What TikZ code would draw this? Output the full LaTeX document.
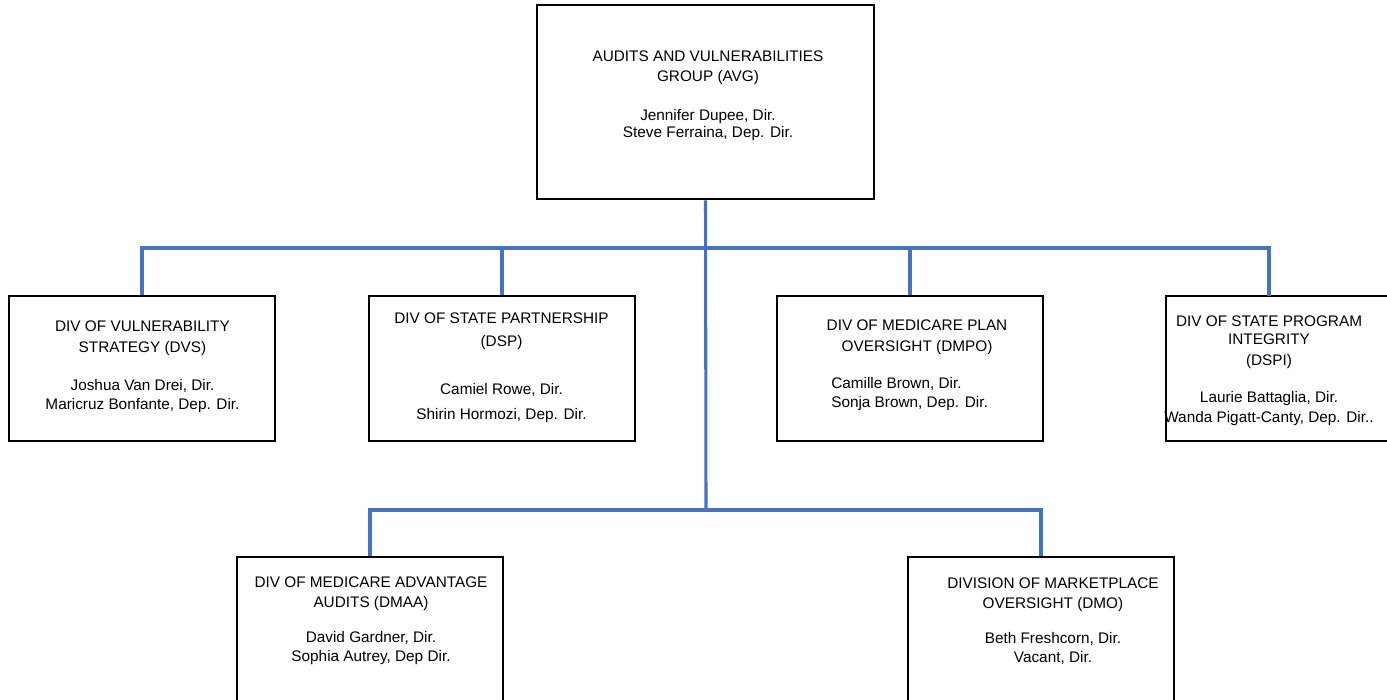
\documentclass[tikz,border=0pt]{standalone}
\usepackage{fontspec}
\setmainfont{Liberation Sans}
\definecolor{connblue}{RGB}{68,114,196}
\begin{document}
\begin{tikzpicture}[x=0.75pt,y=-0.75pt,
  orgbox/.style={draw=black,line width=2.2pt,rectangle,inner sep=0pt,minimum width=266*0.75pt,minimum height=145*0.75pt},
  conn/.style={draw=connblue,line width=2.3pt},
  txt/.style={inner sep=0pt,align=center,font=\fontsize{11.5}{15}\selectfont},
  txtl/.style={inner sep=0pt,align=left,font=\fontsize{11.5}{15}\selectfont}]
\useasboundingbox (0,0) rectangle (1387,699);
\clip (0,0) rectangle (1387,699);
% boxes
\node[orgbox,minimum width=337*0.75pt,minimum height=194*0.75pt] (avg) at (705.5,102) {};
\node[orgbox] (dvs) at (142,368.5) {};
\node[orgbox] (dsp) at (502,368.5) {};
\node[orgbox] (dmpo) at (910,368.5) {};
\node[orgbox] (dspi) at (1299,368.5) {};
\node[orgbox] (dmaa) at (370,629.5) {};
\node[orgbox] (dmo) at (1041,629.5) {};
% junctions
\coordinate (j1) at (706,248);
\coordinate (j2) at (706,510);
\coordinate (dspiin) at (1269,296);
% connectors
\draw[conn] (avg.south) -- (j2);
\draw[conn] (dvs.north) -- (dvs.north |- j1) -- (dspiin |- j1) -- (dspiin);
\draw[conn] (dsp.north) -- (dsp.north |- j1);
\draw[conn] (dmpo.north) -- (dmpo.north |- j1);
\draw[conn] (dmaa.north) |- (j2) -| (dmo.north);
% texts
\node[txt] (avg-t) at (708,96) {AUDITS AND VULNERABILITIES\\ GROUP (AVG)\\[14.25pt] Jennifer Dupee, Dir.\\[-2.25pt] Steve Ferraina, Dep. Dir.};
\node[txt] (dvs-t) at (142.5,367) {DIV OF VULNERABILITY\\[0.75pt] STRATEGY (DVS)\\[13.5pt] Joshua Van Drei, Dir.\\[-0.75pt] Maricruz Bonfante, Dep. Dir.};
\node[txt] (dsp-t) at (501.5,368) {DIV OF STATE PARTNERSHIP\\[2.25pt] (DSP)\\[21pt] Camiel Rowe, Dir.\\[3.75pt] Shirin Hormozi, Dep. Dir.};
\node[txt] (dmpo-t) at (917,337.5) {DIV OF MEDICARE PLAN\\[0.75pt] OVERSIGHT (DMPO)};
\node[txtl,anchor=west] (dmpo-n) at (831,394.5) {Camille Brown, Dir.\\[-0.75pt] Sonja Brown, Dep. Dir.};
\node[txt] (dspi-t) at (1269,371) {DIV OF STATE PROGRAM\\[-1.5pt] INTEGRITY\\[0.75pt] (DSPI)\\[12.75pt] Laurie Battaglia, Dir.\\ Wanda Pigatt-Canty, Dep. Dir..};
\node[txt] (dmaa-t) at (371,621) {DIV OF MEDICARE ADVANTAGE\\ AUDITS (DMAA)\\[11.25pt] David Gardner, Dir.\\[-0.75pt] Sophia Autrey, Dep Dir.};
\node[txt] (dmo-t) at (1053,621) {DIVISION OF MARKETPLACE\\ OVERSIGHT (DMO)\\[11.25pt] Beth Freshcorn, Dir.\\[-0.75pt] Vacant, Dir.};
\end{tikzpicture}
\end{document}
